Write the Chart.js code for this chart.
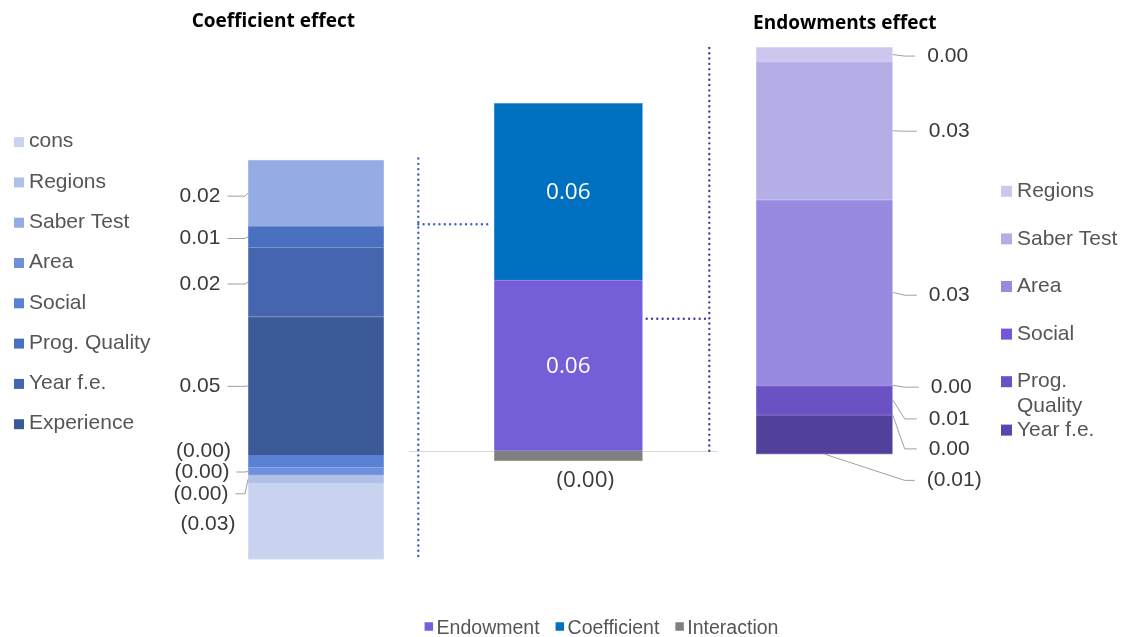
<!DOCTYPE html>
<html>
<head>
<meta charset="utf-8">
<title>Decomposition of the gap: endowments and coefficients</title>
<script src="https://cdn.jsdelivr.net/npm/chart.js@4.4.1/dist/chart.umd.min.js"></script>
<style>
  html, body { margin: 0; padding: 0; background: #ffffff; }
  #board { position: relative; width: 1130px; height: 637px; overflow: hidden; }
  #board canvas { position: absolute; left: 0; top: 0; }
</style>
</head>
<body>
<div id="board">
  <canvas id="coefChart" width="1130" height="637"></canvas>
  <canvas id="endowChart" width="1130" height="637"></canvas>
  <canvas id="totalChart" width="1130" height="637"></canvas>
</div>
<script>
// ---- data -------------------------------------------------------------
// Coefficient effect, by factor (stacking order, bottom to top)
const coefFactors = ['Experience', 'Year f.e.', 'Prog. Quality', 'Social', 'Area', 'Saber Test', 'Regions', 'cons'];
const coefValues  = [0.0477, 0.0239, 0.0073, -0.0044, -0.0026, 0.0228, -0.0029, -0.0261];

// Endowments effect, by factor
const endowFactors = ['Experience', 'Year f.e.', 'Prog. Quality', 'Social', 'Area', 'Saber Test', 'Regions'];
const endowValues  = [-0.0070, 0.0003, 0.0052, 0.0001, 0.0338, 0.0252, 0.0026];

// Total gap split into its three parts
const totalParts  = ['Endowment', 'Coefficient', 'Interaction'];
const totalValues = [0.0602, 0.0623, -0.0036];

// Panel headings
const coefTitle  = 'Coefficient effect';
const endowTitle = 'Endowments effect';

// ---- styles -----------------------------------------------------------
const W = 1130, H = 637;
const SANS = '"Liberation Sans", Arial, sans-serif';
const OPEN = '"Open Sans", "Noto Sans", sans-serif';
const coefColors  = ['#3c5a98', '#4565ae', '#4a70c2', '#5a80d6', '#6f8fdc', '#95abe3', '#b1c0e9', '#c9d3ef'];
const endowColors = ['#52409a', '#5c44b2', '#6a52c4', '#7457d8', '#988ae0', '#b4aee6', '#cdc6ee'];
const totalColors = ['#755fd8', '#0070c0', '#808080'];

function tint(hex, t) {
  const n = parseInt(hex.slice(1), 16);
  const mix = c => Math.round(c + (255 - c) * t);
  return 'rgb(' + mix(n >> 16) + ',' + mix((n >> 8) & 255) + ',' + mix(n & 255) + ')';
}

function fmtValue(v) {
  const s = Math.abs(v).toFixed(2);
  return v < 0 ? '(' + s + ')' : s;
}

function stackSets(names, values, colors) {
  return names.map((name, i) => ({
    label: name,
    data: [values[i]],
    backgroundColor: colors[i],
    borderColor: tint(colors[i], 0.3),
    borderWidth: 1
  }));
}

// Place the value axis so that zero sits at zeroY with the given pixels per unit
function frame(zeroY, pxPerUnit, min, max, barLeft, barRight) {
  return {
    min, max,
    padding: {
      top: zeroY - max * pxPerUnit,
      bottom: H - zeroY + min * pxPerUnit,
      left: barLeft,
      right: W - barRight
    }
  };
}

function barProps(chart, i) {
  const p = chart.getDatasetMeta(i).data[0].getProps(['x', 'y', 'base', 'width'], true);
  return {
    x: p.x,
    left: p.x - p.width / 2, right: p.x + p.width / 2,
    top: Math.min(p.y, p.base), bottom: Math.max(p.y, p.base)
  };
}

function stackExtent(chart) {
  const boxes = chart.data.datasets.map((_, i) => barProps(chart, i));
  return {
    left: boxes[0].left, right: boxes[0].right,
    top: Math.min(...boxes.map(b => b.top)),
    bottom: Math.max(...boxes.map(b => b.bottom))
  };
}

function wrapText(ctx, text, maxWidth) {
  if (!maxWidth || ctx.measureText(text).width <= maxWidth) return [text];
  const words = text.split(' ');
  const lines = [];
  let line = '';
  words.forEach(w => {
    const test = line ? line + ' ' + w : w;
    if (line && ctx.measureText(test).width > maxWidth) { lines.push(line); line = w; }
    else line = test;
  });
  if (line) lines.push(line);
  return lines;
}

// ---- plugins ------------------------------------------------------------
const segmentLabels = {
  id: 'segmentLabels',
  afterDatasetsDraw(chart, _args, o) {
    const ctx = chart.ctx;
    ctx.save();
    ctx.font = o.font;
    ctx.textBaseline = 'middle';
    ctx.textAlign = 'center';
    chart.data.datasets.forEach((ds, i) => {
      const spot = o.spots[i];
      if (!spot) return;
      const b = barProps(chart, i);
      const mid = (b.top + b.bottom) / 2;
      const text = fmtValue(ds.data[0]);
      const w = ctx.measureText(text).width;
      const dx = spot.dx || 0, dy = spot.dy || 0;
      let cx, ly;
      if (spot.side === 'inside') { cx = b.x + dx; ly = mid + dy; }
      else if (spot.side === 'below') { cx = b.x + dx; ly = b.bottom + dy; }
      else if (spot.side === 'left') { cx = b.left - o.gap + dx; ly = mid + dy; }
      else { cx = b.right + o.gap + dx; ly = mid + dy; }
      if (spot.leader) {
        ctx.strokeStyle = o.leaderColor;
        ctx.lineWidth = 1;
        ctx.beginPath();
        if (spot.side === 'left') {
          ctx.moveTo(cx + w / 2 + 7, ly);
          ctx.lineTo(b.left - 3, ly);
          ctx.lineTo(b.left, mid);
        } else {
          const fromBase = spot.leader === 'base';
          ctx.moveTo(fromBase ? b.x : b.right, fromBase ? b.bottom : mid);
          ctx.lineTo(b.right + 12, ly);
          ctx.lineTo(cx - w / 2 - 12, ly);
        }
        ctx.stroke();
      }
      ctx.fillStyle = spot.color || o.color;
      ctx.fillText(text, cx, ly);
    });
    ctx.restore();
  }
};

const sideLegend = {
  id: 'sideLegend',
  afterDraw(chart, _args, o) {
    if (!o.font) return;
    const ctx = chart.ctx;
    ctx.save();
    ctx.font = o.font;
    ctx.textBaseline = 'middle';
    ctx.textAlign = 'left';
    let items = chart.data.datasets.slice().reverse();
    if (o.maxItems) items = items.slice(0, o.maxItems);
    let y = o.top;
    items.forEach(ds => {
      const lines = wrapText(ctx, ds.label, o.maxWidth);
      ctx.fillStyle = ds.backgroundColor;
      ctx.fillRect(o.left, y - o.box / 2 + o.boxDy, o.box, o.box);
      ctx.fillStyle = o.color;
      lines.forEach((ln, k) => ctx.fillText(ln, o.left + o.box + o.gap, y + k * o.lineHeight));
      y += lines.length > 1 ? lines.length * o.lineHeight : o.step;
    });
    ctx.restore();
  }
};

const bottomLegend = {
  id: 'bottomLegend',
  afterDraw(chart, _args, o) {
    if (!o.font) return;
    const ctx = chart.ctx;
    ctx.save();
    ctx.font = o.font;
    ctx.textBaseline = 'middle';
    ctx.textAlign = 'left';
    const items = chart.data.datasets.map(ds => ({ text: ds.label, color: ds.backgroundColor, w: ctx.measureText(ds.label).width }));
    const total = items.reduce((s, it) => s + o.box + o.gap + it.w, 0) + o.spacing * (items.length - 1);
    let x = o.centerX - total / 2;
    items.forEach(it => {
      ctx.fillStyle = it.color;
      ctx.fillRect(x, o.y - o.box / 2 + o.boxDy, o.box, o.box);
      ctx.fillStyle = o.color;
      ctx.fillText(it.text, x + o.box + o.gap, o.y);
      x += o.box + o.gap + it.w + o.spacing;
    });
    ctx.restore();
  }
};

const panelTitle = {
  id: 'panelTitle',
  afterDraw(chart, _args, o) {
    if (!o.text) return;
    const ctx = chart.ctx;
    const ext = stackExtent(chart);
    ctx.save();
    ctx.font = o.font;
    ctx.fillStyle = o.color;
    ctx.textAlign = 'center';
    ctx.textBaseline = 'alphabetic';
    ctx.fillText(o.text, (ext.left + ext.right) / 2 + o.dx, o.baseline);
    ctx.restore();
  }
};

const zeroLine = {
  id: 'zeroLine',
  beforeDatasetsDraw(chart, _args, o) {
    if (!o.color) return;
    const ctx = chart.ctx;
    const y = Math.round(chart.scales.y.getPixelForValue(0)) + 0.5;
    ctx.save();
    ctx.strokeStyle = o.color;
    ctx.lineWidth = 1;
    ctx.beginPath();
    ctx.moveTo(chart.chartArea.left - o.extendLeft, y);
    ctx.lineTo(chart.chartArea.right + o.extendRight, y);
    ctx.stroke();
    ctx.restore();
  }
};

function dottedPath(ctx, pts, color) {
  ctx.save();
  ctx.strokeStyle = color;
  ctx.lineWidth = 2.4;
  ctx.lineCap = 'round';
  ctx.setLineDash([0, 5.3]);
  ctx.beginPath();
  ctx.moveTo(pts[0][0], pts[0][1]);
  for (let k = 1; k < pts.length; k++) ctx.lineTo(pts[k][0], pts[k][1]);
  ctx.stroke();
  ctx.restore();
}

// Dotted brackets tying each side panel to its part of the central bar
const connectors = {
  id: 'connectors',
  afterDraw(chart, _args, o) {
    if (!o.panels) return;
    const [coefPanel, endowPanel] = o.panels();
    if (!coefPanel || !endowPanel) return;
    const ctx = chart.ctx;
    const endo = barProps(chart, 0), coef = barProps(chart, 1);
    const L = stackExtent(coefPanel), R = stackExtent(endowPanel);

    const lx = L.right + 34.3;
    dottedPath(ctx, [[lx, L.top - 1.5], [lx, L.bottom - 2]], o.coefColor);
    const ly = coef.top + (coef.bottom - coef.top) * 0.685;
    dottedPath(ctx, [[lx, ly], [coef.left - 3, ly]], o.coefColor);

    const rx = R.left - 46.7;
    dottedPath(ctx, [[rx, R.top + 0.5], [rx, R.bottom]], o.endowColor);
    const ry = endo.top + (endo.bottom - endo.top) * 0.227;
    dottedPath(ctx, [[endo.right + 4, ry], [rx, ry]], o.endowColor);
  }
};

function panel(id, datasets, fr, pluginOpts, plugins) {
  return new Chart(document.getElementById(id), {
    type: 'bar',
    data: { labels: [''], datasets },
    options: {
      responsive: false,
      animation: false,
      events: [],
      layout: { padding: fr.padding },
      datasets: { bar: { categoryPercentage: 1, barPercentage: 1 } },
      scales: {
        x: { display: false, stacked: true },
        y: { display: false, stacked: true, min: fr.min, max: fr.max }
      },
      plugins: Object.assign({ legend: { display: false }, tooltip: { enabled: false } }, pluginOpts)
    },
    plugins
  });
}

// ---- coefficient panel (left) -------------------------------------------
const coefChart = panel('coefChart',
  stackSets(coefFactors, coefValues, coefColors),
  frame(455, 2900, -0.05, 0.13, 248, 384),
  {
    segmentLabels: {
      font: '21px ' + SANS, color: '#3a3a3a', leaderColor: '#a0a0a0', gap: 48,
      spots: [
        { side: 'left', dy: 0.5, leader: true },
        { side: 'left', dy: 2, leader: true },
        { side: 'left', dy: 1.7, leader: true },
        { side: 'left', dx: 3.5, dy: -10.2 },
        { side: 'left', dx: 2, dy: 0.5, leader: true },
        { side: 'left', dy: 3, leader: true },
        { side: 'left', dx: 1, dy: 14.3, leader: true },
        { side: 'left', dx: 8, dy: 3 }
      ]
    },
    sideLegend: {
      font: '21px ' + SANS, color: '#555555', left: 14, top: 141.6, step: 40.3,
      box: 10, boxDy: 0.5, gap: 5, lineHeight: 24
    },
    panelTitle: { text: coefTitle, font: 'bold 19px ' + OPEN, color: '#000000', dx: -42.7, baseline: 26.7 }
  },
  [segmentLabels, sideLegend, panelTitle]
);

// ---- endowments panel (right) -------------------------------------------
const endowChart = panel('endowChart',
  stackSets(endowFactors, endowValues, endowColors),
  frame(415.7, 5480, -0.03, 0.07, 756, 892.7),
  {
    segmentLabels: {
      font: '21px ' + SANS, color: '#3a3a3a', leaderColor: '#a0a0a0', gap: 56.5,
      spots: [
        { side: 'right', dx: 5, dy: 45.5, leader: 'base' },
        { side: 'right', dy: 34, leader: true },
        { side: 'right', dy: 19.1, leader: true },
        { side: 'right', dx: 2, dy: 1.9, leader: true },
        { side: 'right', dy: 2.8, leader: true },
        { side: 'right', dy: 0.5, leader: true },
        { side: 'right', dx: -1.5, dy: 1.5, leader: true }
      ]
    },
    sideLegend: {
      font: '21px ' + SANS, color: '#555555', left: 1001, top: 191.3, step: 47.6,
      box: 11, boxDy: 0, gap: 5, lineHeight: 24.2, maxWidth: 111, maxItems: 6
    },
    panelTitle: { text: endowTitle, font: 'bold 19px ' + OPEN, color: '#000000', dx: 20.4, baseline: 29.3 }
  },
  [segmentLabels, sideLegend, panelTitle]
);

// ---- total gap (centre) ---------------------------------------------------
const totalChart = panel('totalChart',
  stackSets(totalParts, totalValues, totalColors),
  frame(450.7, 2836, -0.02, 0.14, 494, 642.7),
  {
    segmentLabels: {
      font: '22.5px ' + OPEN, color: '#3a3a3a', leaderColor: '#a0a0a0', gap: 0,
      spots: [
        { side: 'inside', dy: 1.6, color: '#ffffff' },
        { side: 'inside', dy: 1.3, color: '#ffffff' },
        { side: 'below', dx: 17, dy: 20 }
      ]
    },
    bottomLegend: {
      font: '19.5px ' + SANS, color: '#555555', centerX: 601.5, y: 628.5,
      box: 8.5, boxDy: -2, gap: 3.5, spacing: 16
    },
    zeroLine: { color: '#d9d9d9', extendLeft: 85, extendRight: 75 },
    connectors: {
      panels: () => [coefChart, endowChart],
      coefColor: '#3c5fc6', endowColor: '#4b3a9e'
    }
  },
  [zeroLine, segmentLabels, bottomLegend, connectors]
);
</script>
</body>
</html>
